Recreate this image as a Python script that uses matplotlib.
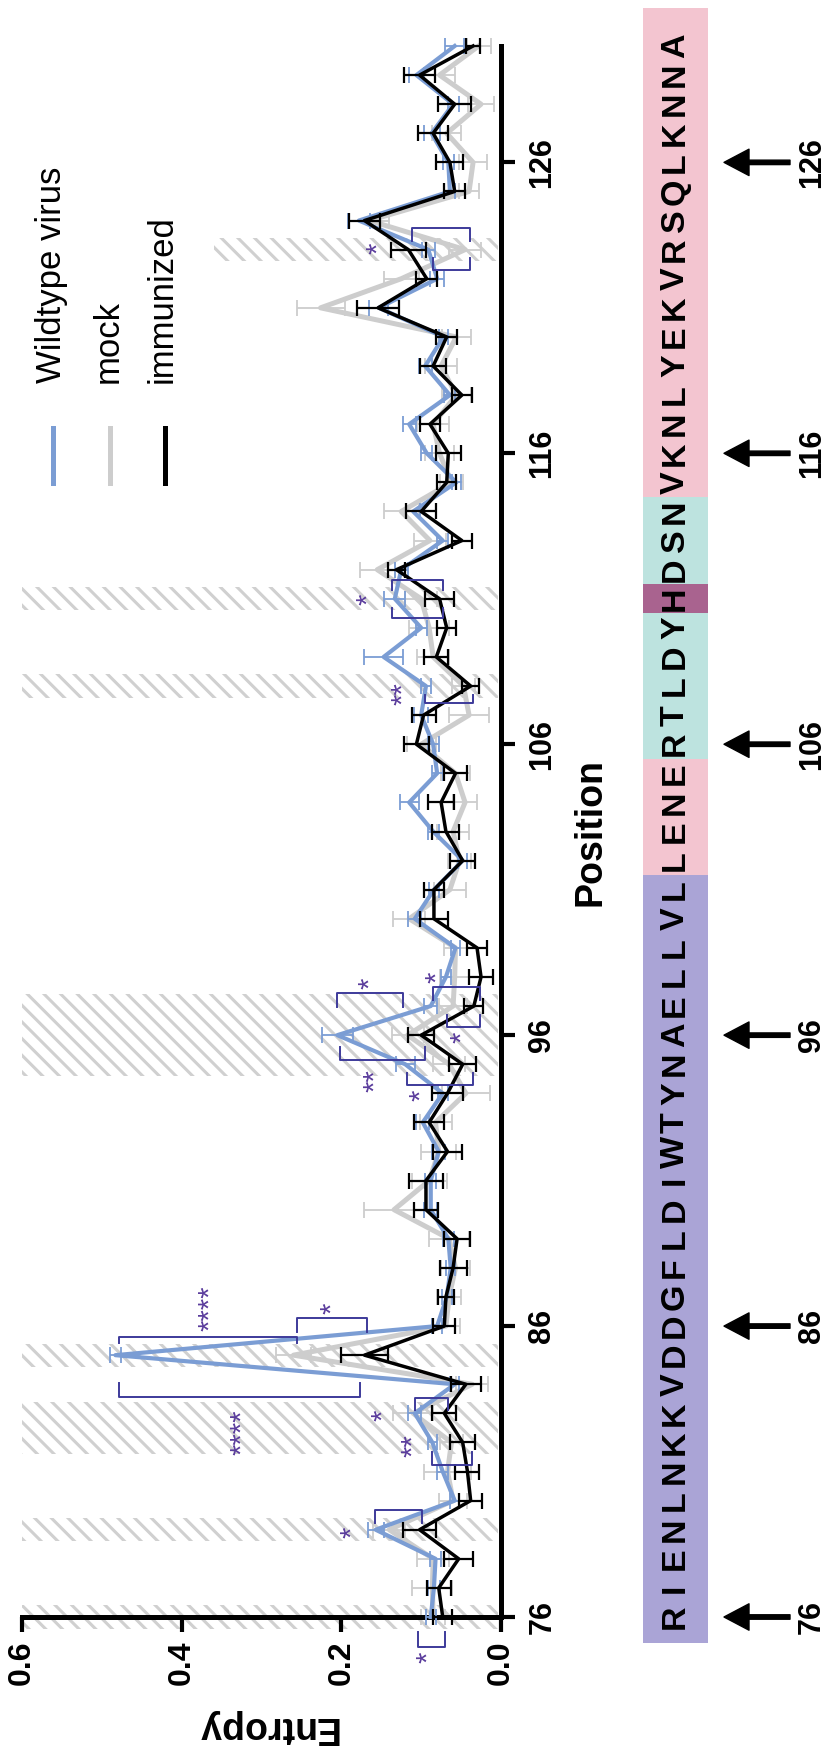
import numpy as np
import matplotlib
matplotlib.use('Agg')
import matplotlib.pyplot as plt
from matplotlib import transforms, font_manager
from matplotlib.lines import Line2D
from matplotlib.patches import Rectangle

############################################
# data
positions = np.arange(76, 131)
sequence = "RIENLNKKVDDGFLDIWTYNAELLVLLENERTLDYHDSNVKNLYEKVRSQLKNNA"

immunized = [0.073, 0.078, 0.053, 0.102, 0.038, 0.042, 0.048, 0.071, 0.044, 0.171,
             0.071, 0.069, 0.060, 0.055, 0.094, 0.094, 0.067, 0.090, 0.067, 0.048,
             0.100, 0.034, 0.025, 0.030, 0.084, 0.084, 0.048, 0.069, 0.075, 0.057,
             0.106, 0.097, 0.038, 0.081, 0.068, 0.077, 0.131, 0.049, 0.100, 0.068,
             0.066, 0.089, 0.049, 0.085, 0.068, 0.154, 0.093, 0.116, 0.171, 0.058,
             0.064, 0.085, 0.058, 0.102, 0.035]
immunized_err = [0.012, 0.015, 0.018, 0.021, 0.014, 0.015, 0.016, 0.015, 0.019, 0.029,
                 0.014, 0.010, 0.017, 0.016, 0.015, 0.021, 0.018, 0.019, 0.020, 0.017,
                 0.016, 0.012, 0.015, 0.012, 0.018, 0.012, 0.016, 0.017, 0.016, 0.015,
                 0.016, 0.015, 0.011, 0.015, 0.012, 0.018, 0.011, 0.013, 0.019, 0.012,
                 0.016, 0.012, 0.013, 0.016, 0.013, 0.026, 0.013, 0.022, 0.020, 0.013,
                 0.017, 0.019, 0.021, 0.019, 0.009]

wildtype = [0.088, 0.084, 0.082, 0.157, 0.058, 0.073, 0.086, 0.108, 0.058, 0.483,
            0.080, 0.068, 0.063, 0.066, 0.088, 0.088, 0.078, 0.098, 0.073, 0.120,
            0.205, 0.088, 0.069, 0.057, 0.108, 0.084, 0.048, 0.085, 0.115, 0.080,
            0.085, 0.100, 0.094, 0.147, 0.100, 0.133, 0.125, 0.073, 0.110, 0.056,
            0.093, 0.115, 0.064, 0.095, 0.072, 0.153, 0.080, 0.091, 0.178, 0.064,
            0.066, 0.087, 0.060, 0.106, 0.058]
wildtype_err = [0.006, 0.008, 0.007, 0.010, 0.006, 0.007, 0.006, 0.008, 0.006, 0.007,
                0.006, 0.006, 0.006, 0.007, 0.008, 0.007, 0.008, 0.008, 0.006, 0.012,
                0.019, 0.008, 0.006, 0.006, 0.008, 0.006, 0.006, 0.007, 0.012, 0.007,
                0.007, 0.009, 0.006, 0.024, 0.007, 0.013, 0.008, 0.007, 0.009, 0.006,
                0.007, 0.008, 0.007, 0.008, 0.006, 0.012, 0.009, 0.008, 0.014, 0.007,
                0.007, 0.010, 0.007, 0.009, 0.012]

mock = [0.085, 0.086, 0.085, 0.140, 0.060, 0.067, 0.062, 0.110, 0.036, 0.260,
        0.069, 0.065, 0.057, 0.065, 0.134, 0.090, 0.078, 0.082, 0.044, 0.065,
        0.117, 0.060, 0.058, 0.057, 0.115, 0.064, 0.052, 0.060, 0.045, 0.057,
        0.100, 0.040, 0.047, 0.085, 0.090, 0.100, 0.155, 0.089, 0.125, 0.062,
        0.077, 0.085, 0.056, 0.075, 0.056, 0.226, 0.125, 0.045, 0.165, 0.040,
        0.035, 0.068, 0.025, 0.077, 0.028]
mock_err = [0.015, 0.025, 0.020, 0.020, 0.018, 0.030, 0.015, 0.025, 0.020, 0.022,
            0.018, 0.015, 0.018, 0.025, 0.038, 0.022, 0.022, 0.020, 0.030, 0.020,
            0.020, 0.018, 0.018, 0.015, 0.020, 0.020, 0.015, 0.020, 0.015, 0.018,
            0.018, 0.025, 0.015, 0.020, 0.025, 0.020, 0.022, 0.020, 0.022, 0.015,
            0.018, 0.020, 0.018, 0.020, 0.018, 0.030, 0.022, 0.020, 0.025, 0.012,
            0.018, 0.018, 0.016, 0.020, 0.015]

# hatched position ranges (from, to, upper entropy)
hatch_bands = [(75.6, 76.4, 0.6), (78.6, 79.4, 0.6), (81.6, 83.4, 0.6), (84.6, 85.4, 0.6),
               (94.6, 97.4, 0.6), (107.6, 108.4, 0.6), (110.6, 111.4, 0.6), (122.6, 123.4, 0.36)]

# significance brackets: entropy from, entropy to, position of bar, position of leg ends
brackets = [(0.478, 0.255, 85.62, 85.42), (0.256, 0.168, 86.27, 85.80),
            (0.478, 0.177, 83.56, 84.04), (0.108, 0.066, 83.53, 83.11),
            (0.087, 0.036, 81.22, 81.67), (0.158, 0.099, 79.68, 79.23),
            (0.104, 0.070, 74.97, 75.48), (0.206, 0.123, 97.44, 96.96),
            (0.085, 0.026, 97.65, 97.20), (0.068, 0.026, 96.27, 96.68),
            (0.202, 0.095, 95.14, 95.59), (0.118, 0.035, 94.28, 94.69),
            (0.095, 0.035, 107.40, 107.68), (0.137, 0.073, 111.64, 111.30),
            (0.137, 0.073, 110.33, 110.67), (0.112, 0.039, 123.73, 123.30),
            (0.085, 0.039, 122.29, 122.70)]
stars = [(0.365, 86.6, '****'), (0.212, 86.6, '*'), (0.324, 82.36, '****'),
         (0.148, 82.94, '*'), (0.110, 81.88, '**'), (0.187, 78.92, '*'),
         (0.0915, 74.63, '*'), (0.164, 97.79, '*'), (0.080, 97.99, '*'),
         (0.049, 95.93, '*'), (0.158, 94.45, '**'), (0.100, 93.94, '*'),
         (0.123, 107.75, '**'), (0.167, 110.98, '*'), (0.154, 123.04, '*')]

# coloured domains under the sequence
domains = [(75.1, 101.5, '#aaa4d6'), (101.5, 105.5, '#f3c5d0'), (105.5, 110.5, '#bde3df'),
           (110.5, 111.5, '#a9638f'), (111.5, 114.5, '#bde3df'), (114.5, 131.3, '#f3c5d0')]
tick_pos = [76, 86, 96, 106, 116, 126]
entropy_ticks = [0.0, 0.2, 0.4, 0.6]
entropy_labels = ['0.0', '0.2', '0.4', '0.6']

############################################
plt.rcParams['font.family'] = ['Liberation Sans', 'DejaVu Sans']
plt.rcParams['hatch.linewidth'] = 2.2
plt.rcParams['hatch.color'] = '#d0d0d0'
names = {f.name for f in font_manager.fontManager.ttflist}
narrow = 'Liberation Sans Narrow' if 'Liberation Sans Narrow' in names else 'Liberation Sans'

W, H = 830.0, 1747.0
fx = lambda px: px / W
fy = lambda py: 1 - py / H

BLUE = '#7b9dd4'
GREY = '#cdcdcd'
SIG = '#3d3a9a'
STAR = '#5a3c9c'

fig = plt.figure(figsize=(8.30, 17.47), dpi=100)
ax = fig.add_axes([fx(22), fy(1617), fx(501) - fx(22), fy(46) - fy(1617)])
ax.set_xlim(0.6, 0.0)
ax.set_ylim(76, 130)

for lo, hi, top in hatch_bands:
    ax.add_patch(Rectangle((0.004, lo), top - 0.004, hi - lo, facecolor='none',
                           edgecolor='#d0d0d0', hatch='\\\\', linewidth=0, zorder=1, clip_on=False))

for vals, errs, col, lw, elw, z in [(mock, mock_err, GREY, 3.6, 1.3, 2),
                                    (wildtype, wildtype_err, BLUE, 3.0, 1.3, 3),
                                    (immunized, immunized_err, 'black', 2.5, 1.6, 4)]:
    c = ax.errorbar(vals, positions, xerr=errs, color=col, lw=lw, elinewidth=elw,
                    capsize=5.5, capthick=elw, zorder=z)
    c.lines[0].set_clip_on(False)
    for a in list(c.lines[1]) + list(c.lines[2]):
        a.set_clip_on(False)

for e1, e2, pl, pleg in brackets:
    ax.plot([e1, e1, e2, e2], [pleg, pl, pl, pleg], color=SIG, lw=1.4, zorder=5, clip_on=False)
for e, p, s in stars:
    ax.text(e, p, s, rotation=90, ha='center', va='center', fontsize=21, color=STAR, zorder=6)

# axes
for s in ['left', 'top']:
    ax.spines[s].set_visible(False)
for s in ['bottom', 'right']:
    ax.spines[s].set_linewidth(3.6)
ax.yaxis.tick_right()
ax.set_xticks(entropy_ticks)
ax.set_xticklabels(entropy_labels, rotation=90, fontsize=23, fontweight='bold')
ax.set_yticks(tick_pos)
ax.set_yticklabels([str(t) for t in tick_pos], rotation=90, fontsize=22, fontweight='bold', family=narrow)
for lab in ax.get_yticklabels():
    lab.set_va('center')
ax.tick_params(axis='x', direction='out', length=11, width=3, pad=6)
ax.tick_params(axis='y', direction='out', length=10, width=3, pad=9)

ax.set_xlabel('Entropy', fontsize=27, fontweight='bold', rotation=180, va='center', ha='center')
ax.xaxis.set_label_coords(0.51, -0.070)
ax.yaxis.set_label_position('right')
ax.set_ylabel('Position', fontsize=27, fontweight='bold', rotation=90, va='center', ha='center')
ax.yaxis.set_label_coords((590 - 22) / 479.0, 0.5)

# sequence bar
ax_seq = fig.add_axes([fx(643), fy(1617), fx(708) - fx(643), fy(46) - fy(1617)])
ax_seq.set_xlim(0, 1)
ax_seq.set_ylim(76, 130)
ax_seq.axis('off')
for lo, hi, col in domains:
    ax_seq.add_patch(Rectangle((0, lo), 1, hi - lo, facecolor=col, linewidth=0, clip_on=False))
for p, ch in zip(positions, sequence):
    ax_seq.text(0.5, p, ch, rotation=90, ha='center', va='center', fontsize=24.5,
                fontweight='bold', family=narrow, clip_on=False)

# arrows with numbers
trans = transforms.blended_transform_factory(fig.transFigure, ax.transData)
for p in tick_pos:
    ax.annotate('', xy=(fx(724), p), xycoords=trans, xytext=(fx(790), p), textcoords=trans,
                arrowprops=dict(facecolor='black', edgecolor='black', width=3.2,
                                headwidth=19, headlength=18, shrink=0),
                annotation_clip=False)
    ax.text(fx(812), p, str(p), transform=trans, rotation=90, ha='center', va='center',
            fontsize=22, fontweight='bold', family=narrow)

# legend
for label, col, lx, tx in [('Wildtype virus', BLUE, 53, 52), ('mock', GREY, 110, 108),
                           ('immunized', 'black', 165, 162)]:
    fig.add_artist(Line2D([fx(lx), fx(lx)], [fy(428), fy(483)], color=col, lw=3.6))
    fig.text(fx(tx), fy(383), label, rotation=90, ha='center', va='bottom', fontsize=25)

fig.savefig('out.png', dpi=100)
